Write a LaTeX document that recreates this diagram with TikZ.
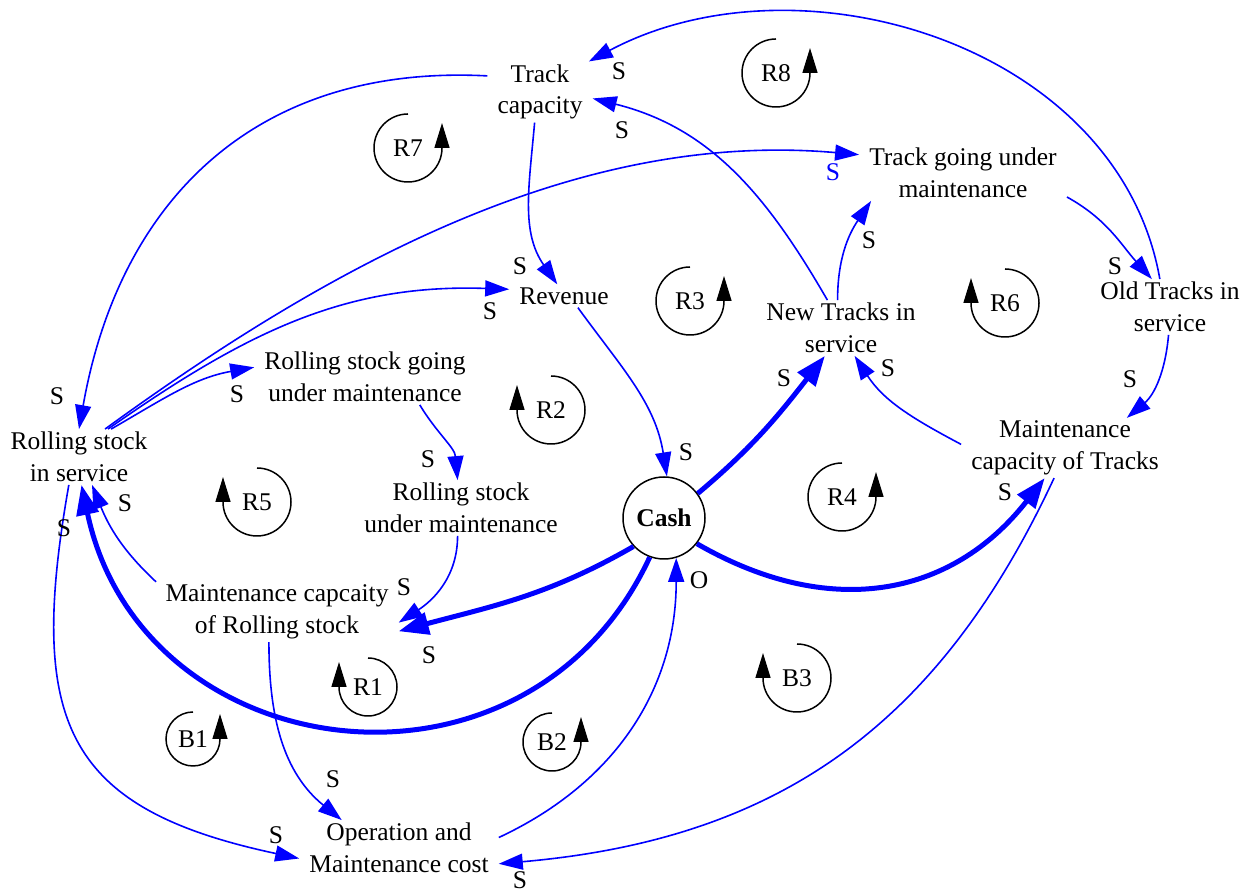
\documentclass[tikz,border=0pt]{standalone}
\usepackage{fontspec}
\setmainfont{Liberation Serif}
\usetikzlibrary{arrows.meta,calc}
\definecolor{linkblue}{RGB}{0,0,255}
\newcommand{\diafont}{\fontsize{25.5}{31.5}\selectfont}
\tikzset{
  var/.style={align=center, inner xsep=10pt, inner ysep=3pt},
  stocknode/.style={draw, circle, line width=1.5pt, minimum size=82pt, inner sep=0pt, font=\diafont\bfseries},
  link/.style={color=linkblue, line width=1.6pt, -{Triangle[length=24pt,width=16pt]}},
  heavylink/.style={color=linkblue, line width=5pt, -{Triangle[length=30pt,width=22pt]}},
  pol/.style={inner sep=0pt},
  loopname/.style={inner sep=0pt},
  loopline/.style={line width=1.5pt, -{Triangle[length=25pt,width=15pt]}},
}

\begin{document}
\begin{tikzpicture}[x=1pt, y=1pt, font=\diafont]
  \useasboundingbox (0,0) rectangle (1250,893);

  % Variables
  \node[var] (TC)  at (540,801)  {Track\\capacity};
  \node[var] (TGM) at (963,720)  {Track going under\\maintenance};
  \node[var] (REV) at (564,597)  {Revenue};
  \node[var] (NTS) at (841,565)  {New Tracks in\\service};
  \node[var] (OTS) at (1170,586) {Old Tracks in\\service};
  \node[var] (RGM) at (365,516)  {Rolling stock going\\under maintenance};
  \node[var] (RIS) at (79,436)   {Rolling stock\\in service};
  \node[var] (MCT) at (1065,445) {Maintenance\\capacity of Tracks};
  \node[var] (RUM) at (461,385)  {Rolling stock\\under maintenance};
  \node[stocknode] (CASH) at (664,375) {Cash};
  \node[var] (MCR) at (277,281)  {Maintenance capcaity\\of Rolling stock};
  \node[var] (OMC) at (399,45)   {Operation and\\Maintenance cost};

  % Links
  \draw[link] (TC.163) to[out=177, in=80, looseness=1.1] (RIS.north);
  \draw[link] (TC.-100) to[out=-95, in=125] (REV.120);
  \draw[link] (RIS.47) to[out=36, in=175, looseness=0.9] (TGM.170);
  \draw[link] (RIS.44) to[out=35, in=178] (REV.173);
  \draw[link] (RIS.41) to[out=30, in=-170] (RGM.175);
  \draw[link] (NTS.116) to[out=120, in=-14] (TC.-7);
  \draw[link] (OTS.110) to[out=100, in=28] (TC.32);
  \draw[link] (NTS.97) to[out=90, in=-124] ([xshift=12pt]TGM.south west);
  \draw[link] (TGM.-13) to[out=-29, in=132] (OTS.123);
  \draw[link] (OTS.-93) to[out=-95, in=40] (MCT.26);
  \draw[link] (MCT.178) to[out=152, in=-57] (NTS.-64);
  \draw[link] (REV.-40) to[out=-54, in=99] (CASH.86);
  \draw[link] (RGM.-27) to[out=-59, in=95] (RUM.97);
  \draw[link] (RUM.-97) to[out=-90, in=33] (MCR.-5);
  \draw[link] (MCR.166) to[out=137, in=-68] (RIS.-65);
  \draw[link] (RIS.-110) to[out=-100, in=168, looseness=1.4] (OMC.186);
  \draw[link] (MCR.-105) to[out=-90, in=141] (OMC.154);
  \draw[link] (OMC.6) to[out=25, in=-90] (CASH.-73);
  \draw[link] (MCT.-110) to[out=-115, in=5, looseness=1.05] (OMC.-9);

  % Links from cash
  \draw[heavylink] (CASH.36) to[out=40, in=-128] (NTS.-120);
  \draw[heavylink] (CASH.-38) to[out=-30, in=-128, looseness=1.1] (MCT.-124);
  \draw[heavylink] (CASH.-137) to[out=-150, in=15] (MCR.-9);
  \draw[heavylink] (CASH.-110) to[out=-115, in=-78, looseness=1.3] (RIS.-85);

  % Polarities
  \node[pol] (s1)  at (57,497)   {S};
  \node[pol] (s2)  at (520,627)  {S};
  \node[pol, text=linkblue] (s3) at (833,721) {S};
  \node[pol] (s4)  at (490,582)  {S};
  \node[pol] (s5)  at (237,499)  {S};
  \node[pol] (s6)  at (622,763)  {S};
  \node[pol] (s7)  at (619,822)  {S};
  \node[pol] (s8)  at (869,653)  {S};
  \node[pol] (s9)  at (1115,627) {S};
  \node[pol] (s10) at (1130,514) {S};
  \node[pol] (s11) at (888,525)  {S};
  \node[pol] (s12) at (686,441)  {S};
  \node[pol] (s13) at (428,434)  {S};
  \node[pol] (s14) at (404,306)  {S};
  \node[pol] (s15) at (784,515)  {S};
  \node[pol] (s16) at (1005,401) {S};
  \node[pol] (s17) at (429,238)  {S};
  \node[pol] (s18) at (64,365)   {S};
  \node[pol] (s19) at (125,390)  {S};
  \node[pol] (s20) at (276,58)   {S};
  \node[pol] (s21) at (333,114)  {S};
  \node[pol] (o22) at (699,313)  {O};
  \node[pol] (s23) at (520,13)   {S};

  % Loops
  \node[loopname] (R7) at (408,745) {R7};
  \draw[loopline] ([yshift=34pt]R7.center) arc[start angle=90, end angle=360, radius=34pt] -- ++(0,25);
  \node[loopname] (R8) at (776,820) {R8};
  \draw[loopline] ([yshift=34pt]R8.center) arc[start angle=90, end angle=360, radius=34pt] -- ++(0,25);
  \node[loopname] (R3) at (690,592) {R3};
  \draw[loopline] ([yshift=34pt]R3.center) arc[start angle=90, end angle=360, radius=34pt] -- ++(0,25);
  \node[loopname] (R4) at (842,396) {R4};
  \draw[loopline] ([yshift=34pt]R4.center) arc[start angle=90, end angle=360, radius=34pt] -- ++(0,25);
  \node[loopname] (B1) at (193,154) {B1};
  \draw[loopline] ([yshift=27pt]B1.center) arc[start angle=90, end angle=360, radius=27pt] -- ++(0,25);
  \node[loopname] (B2) at (552,151) {B2};
  \draw[loopline] ([yshift=29pt]B2.center) arc[start angle=90, end angle=360, radius=29pt] -- ++(0,25);
  \node[loopname] (R2) at (551,483) {R2};
  \draw[loopline] ([yshift=34pt]R2.center) arc[start angle=90, end angle=-180, radius=34pt] -- ++(0,25);
  \node[loopname] (R6) at (1005,590) {R6};
  \draw[loopline] ([yshift=34pt]R6.center) arc[start angle=90, end angle=-180, radius=34pt] -- ++(0,25);
  \node[loopname] (R5) at (257,391) {R5};
  \draw[loopline] ([yshift=34pt]R5.center) arc[start angle=90, end angle=-180, radius=34pt] -- ++(0,25);
  \node[loopname] (R1) at (368,206) {R1};
  \draw[loopline] ([yshift=29pt]R1.center) arc[start angle=90, end angle=-180, radius=29pt] -- ++(0,25);
  \node[loopname] (B3) at (797,215) {B3};
  \draw[loopline] ([yshift=34pt]B3.center) arc[start angle=90, end angle=-180, radius=34pt] -- ++(0,25);
\end{tikzpicture}
\end{document}
